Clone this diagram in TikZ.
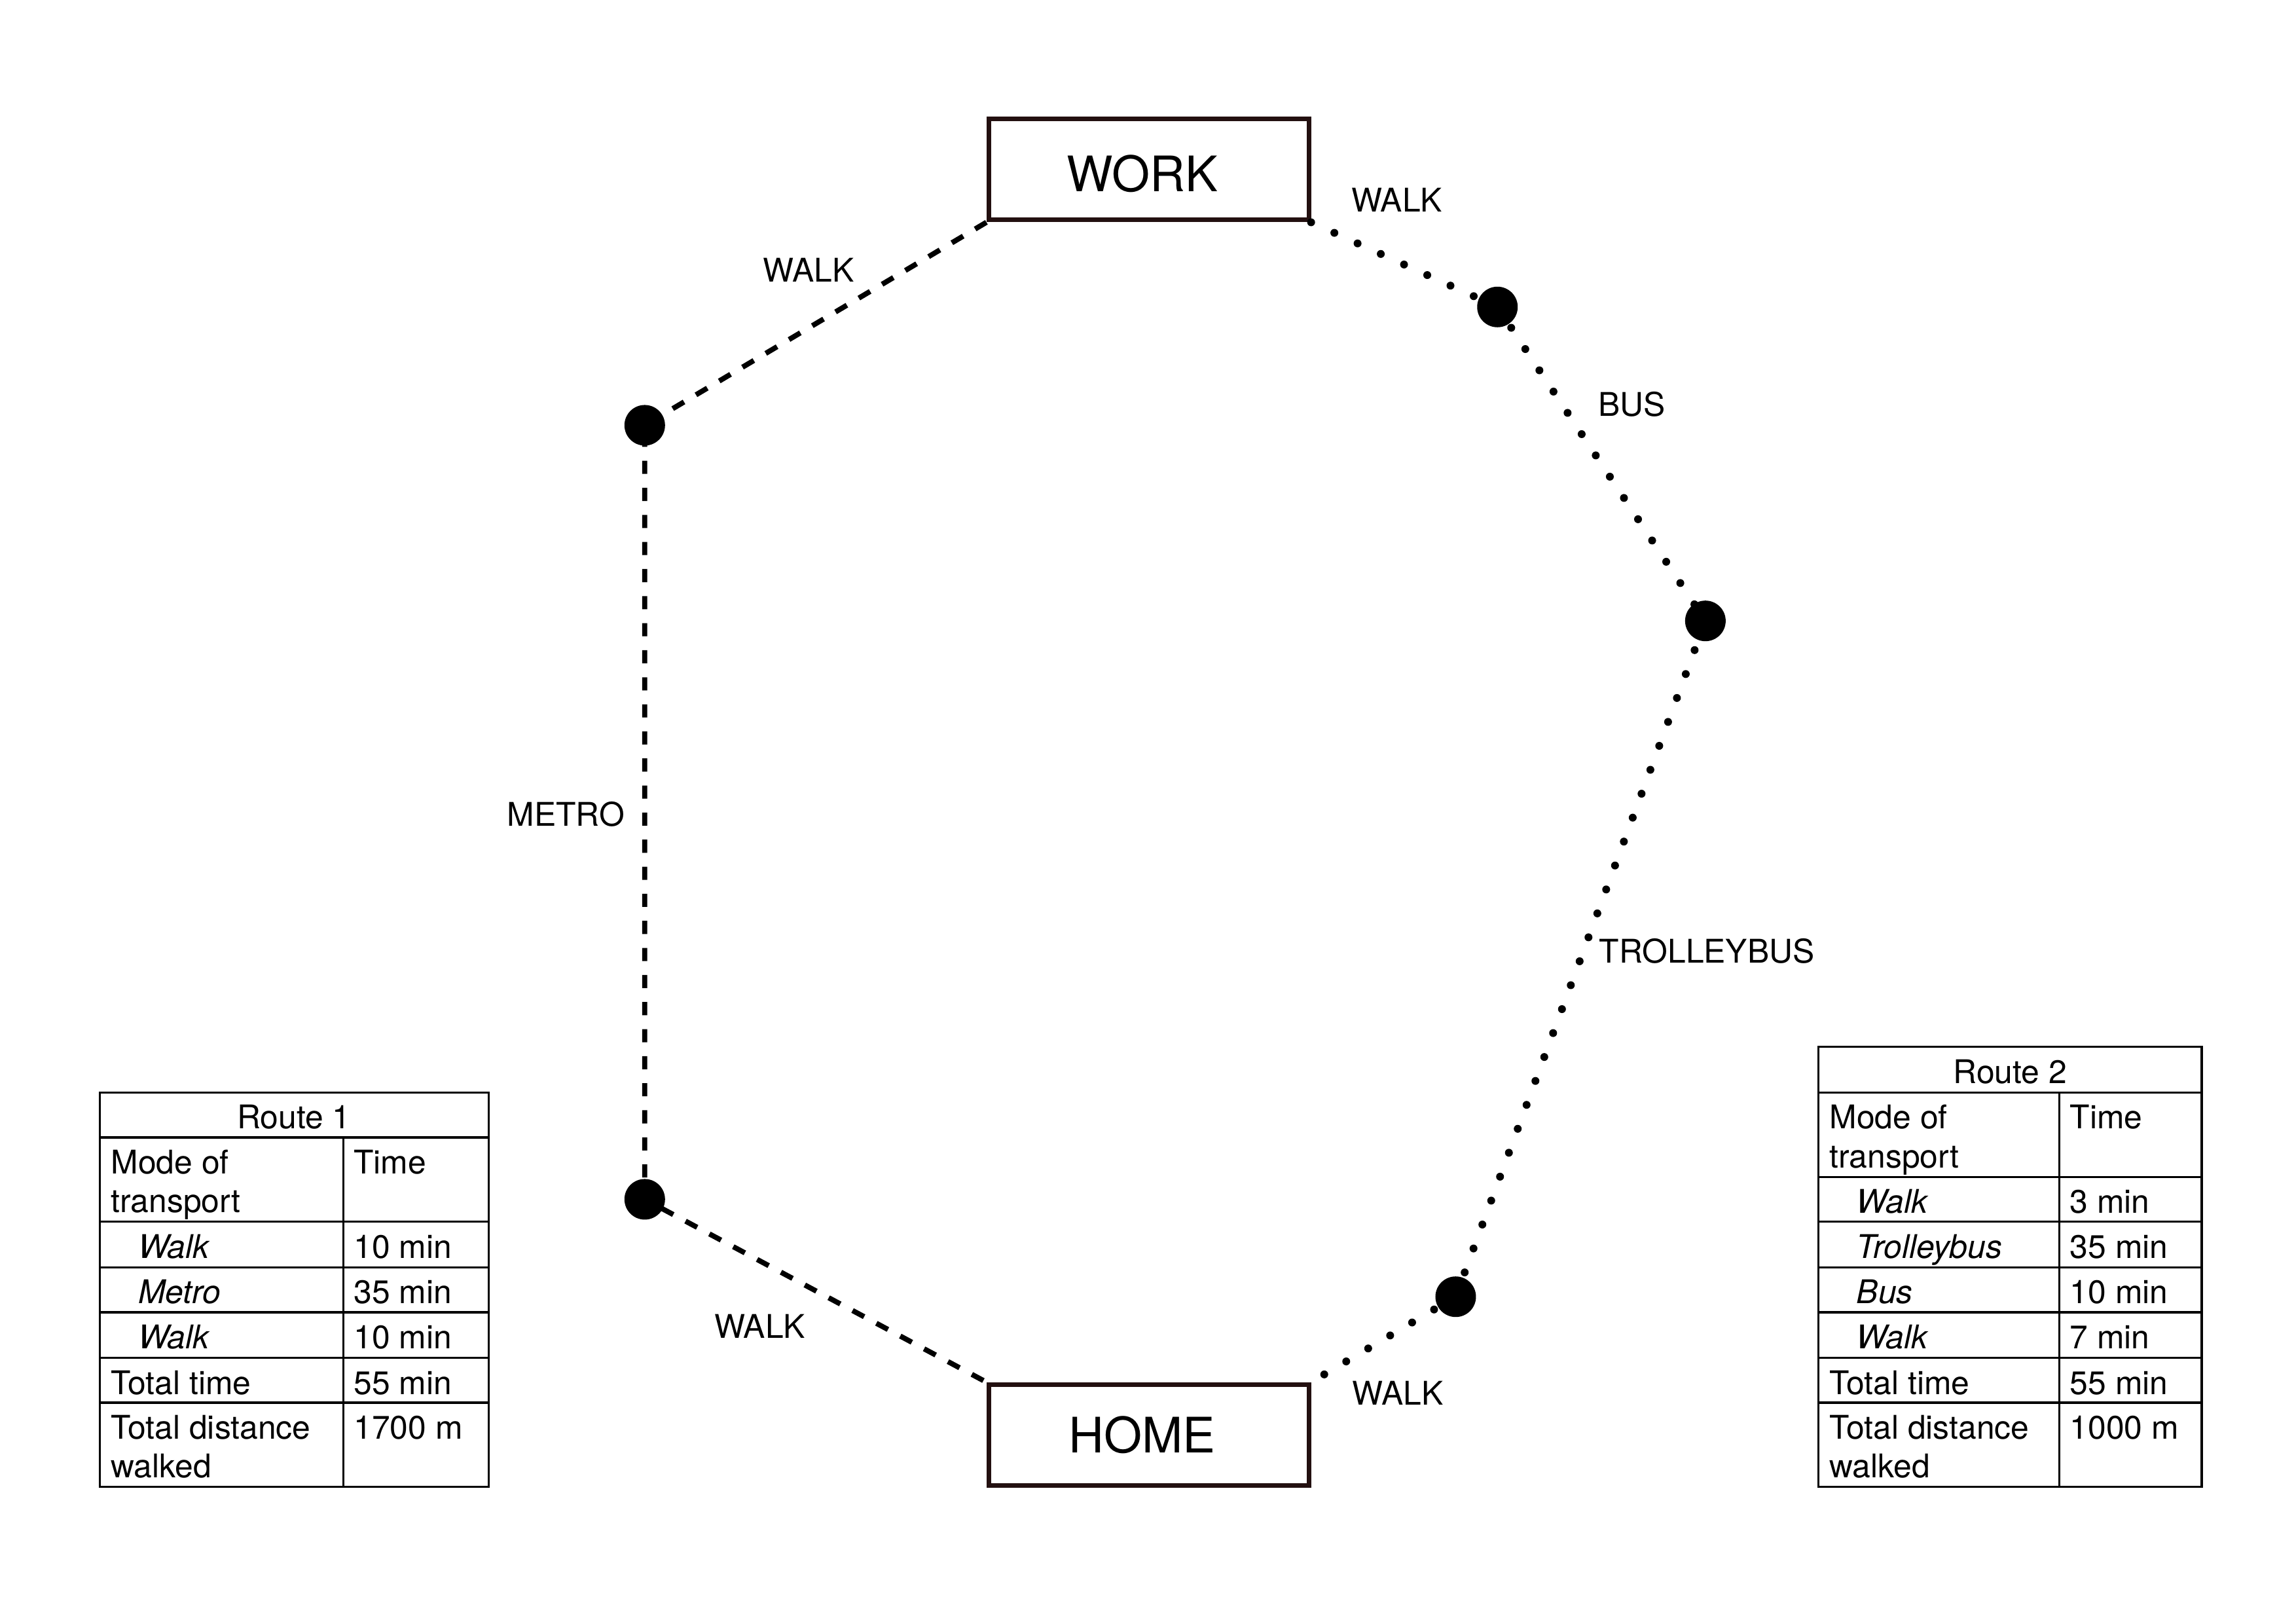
\documentclass[tikz,border=0pt]{standalone}
\usepackage{fontspec}
\setmainfont{TeX Gyre Heros}
\usepackage{xcolor}
\usepackage{tikz}
\definecolor{boxline}{RGB}{35,16,16}

\begin{document}
\begin{tikzpicture}
    \tikzstyle{site} = [rectangle, draw=boxline, line width=1.7pt, minimum width=4.14cm, minimum height=1.31cm, text height=0.58cm, text depth=0pt, text centered, font=\fontsize{18}{21}\selectfont]
    \tikzstyle{stopdot} = [circle, fill=black, minimum size=0.525cm, inner sep=0pt]
    \tikzstyle{lbl} = [inner sep=0pt, font=\fontsize{12}{14}\selectfont]
    \tikzstyle{metroline} = [line width=1.9pt, dash pattern=on 0.17cm off 0.18cm]
    \tikzstyle{busline} = [line width=2.9pt, line cap=round, dash pattern=on 0pt off 0.33cm]
    \tikzstyle{grid} = [line width=0.8pt]
    \tikzstyle{cell} = [anchor=base west, inner sep=0pt, font=\fontsize{12}{14}\selectfont]
    \tikzstyle{mode} = [anchor=base west, inner sep=0pt, font=\fontsize{12}{14}\selectfont\itshape]

    \useasboundingbox (0,0) rectangle (29.7,21);

    % Places
    \node [site] (work) at (14.86,18.81) {WORK\hspace*{0.17cm}};
    \node [site, text height=0.46cm] (home) at (14.86,2.44) {HOME\hspace*{0.17cm}};

    % Stops
    \node [stopdot] (metrowork) at (8.34,15.50) {};
    \node [stopdot] (metrohome) at (8.34,5.49) {};
    \node [stopdot] (busstop) at (19.37,17.03) {};
    \node [stopdot] (change) at (22.06,12.97) {};
    \node [stopdot] (trolleystop) at (18.83,4.23) {};

    % Route 1
    \draw [metroline] (work.south west) -- (metrowork.center) -- (metrohome.center) -- (home.north west);
    % Route 2
    \draw [busline] (work.south east) -- (busstop.center) -- (change.center) -- (trolleystop.center) -- (home.north east);

    % Leg labels
    \node [lbl] (walkw1) at (10.46,17.51) {WALK};
    \node [lbl] (metro) at (7.32,10.47) {METRO};
    \node [lbl] (walkh1) at (9.83,3.85) {WALK};
    \node [lbl] (walkw2) at (18.07,18.41) {WALK};
    \node [lbl] (bus) at (21.11,15.77) {BUS};
    \node [lbl] (trolley) at (22.08,8.70) {TROLLEYBUS};
    \node [lbl] (walkh2) at (18.08,2.98) {WALK};

    % Table route 1
    \draw [grid] (1.29,6.87) rectangle (6.32,1.77);
    \draw [grid] (1.29,6.29) -- (6.32,6.29) (1.29,5.20) -- (6.32,5.20) (1.29,4.61) -- (6.32,4.61)
                 (1.29,4.03) -- (6.32,4.03) (1.29,3.44) -- (6.32,3.44) (1.29,2.86) -- (6.32,2.86);
    \draw [grid] (4.44,6.29) -- (4.44,1.77);
    \node [cell, anchor=base] (r1head) at (3.80,6.40) {Route 1};
    \node [cell] (r1mode) at (1.43,5.82) {Mode of};
    \node [cell] (r1mode2) at (1.43,5.32) {transport};
    \node [cell] (r1time) at (4.57,5.82) {Time};
    \node [mode] (r1walka) at (1.78,4.73) {Walk};
    \node [cell] (r1walkat) at (4.57,4.73) {10 min};
    \node [mode] (r1metro) at (1.78,4.14) {Metro};
    \node [cell] (r1metrot) at (4.57,4.14) {35 min};
    \node [mode] (r1walkb) at (1.78,3.56) {Walk};
    \node [cell] (r1walkbt) at (4.57,3.56) {10 min};
    \node [cell] (r1total) at (1.43,2.97) {Total time};
    \node [cell] (r1totalt) at (4.57,2.97) {55 min};
    \node [cell] (r1dist) at (1.43,2.39) {Total distance};
    \node [cell] (r1dist2) at (1.43,1.89) {walked};
    \node [cell] (r1distm) at (4.57,2.39) {1700 m};

    % Table route 2
    \draw [grid] (23.52,7.46) rectangle (28.48,1.77);
    \draw [grid] (23.52,6.87) -- (28.48,6.87) (23.52,5.78) -- (28.48,5.78) (23.52,5.20) -- (28.48,5.20)
                 (23.52,4.61) -- (28.48,4.61) (23.52,4.03) -- (28.48,4.03) (23.52,3.44) -- (28.48,3.44)
                 (23.52,2.86) -- (28.48,2.86);
    \draw [grid] (26.64,6.87) -- (26.64,1.77);
    \node [cell, anchor=base] (r2head) at (26.00,6.99) {Route 2};
    \node [cell] (r2mode) at (23.66,6.40) {Mode of};
    \node [cell] (r2mode2) at (23.66,5.90) {transport};
    \node [cell] (r2time) at (26.77,6.40) {Time};
    \node [mode] (r2walka) at (24.01,5.31) {Walk};
    \node [cell] (r2walkat) at (26.77,5.31) {3 min};
    \node [mode] (r2trolley) at (24.01,4.73) {Trolleybus};
    \node [cell] (r2trolleyt) at (26.77,4.73) {35 min};
    \node [mode] (r2bus) at (24.01,4.14) {Bus};
    \node [cell] (r2bust) at (26.77,4.14) {10 min};
    \node [mode] (r2walkb) at (24.01,3.56) {Walk};
    \node [cell] (r2walkbt) at (26.77,3.56) {7 min};
    \node [cell] (r2total) at (23.66,2.97) {Total time};
    \node [cell] (r2totalt) at (26.77,2.97) {55 min};
    \node [cell] (r2dist) at (23.66,2.39) {Total distance};
    \node [cell] (r2dist2) at (23.66,1.89) {walked};
    \node [cell] (r2distm) at (26.77,2.39) {1000 m};
\end{tikzpicture}
\end{document}
